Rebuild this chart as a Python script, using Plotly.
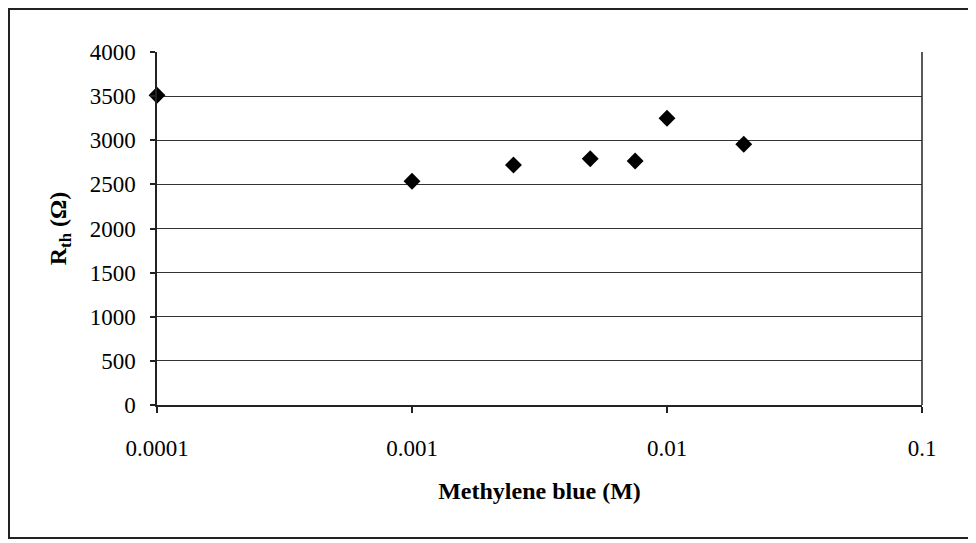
import plotly.graph_objects as go

concentration_M = [0.0001, 0.001, 0.0025, 0.005, 0.0075, 0.01, 0.02]
rth_ohm = [3510, 2535, 2720, 2790, 2765, 3250, 2955]

x_tick_vals = [0.0001, 0.001, 0.01, 0.1]
x_tick_text = ["0.0001", "0.001", "0.01", "0.1"]
y_tick_vals = [0, 500, 1000, 1500, 2000, 2500, 3000, 3500, 4000]

FONT = "Liberation Serif, Times New Roman, serif"

# page body has an 8px margin, so the figure is shifted by 8px; compensate
OFF = 8
PL, PR, PT, PB = 157 - OFF, 922 - OFF, 52 - OFF, 405 - OFF
FW, FH = 976, 543

fig = go.Figure()
fig.add_trace(go.Scatter(
    x=concentration_M, y=rth_ohm, mode="markers",
    marker=dict(symbol="diamond", size=13, color="black", line=dict(width=0)),
    showlegend=False, cliponaxis=False,
))

fig.update_layout(
    width=FW, height=FH,
    margin=dict(l=PL, r=FW - PR, t=PT, b=FH - PB),
    paper_bgcolor="white", plot_bgcolor="white",
    font=dict(family=FONT, size=23, color="black"),
    xaxis=dict(
        type="log", range=[-4, -1],
        tickvals=x_tick_vals, ticktext=x_tick_text,
        showgrid=False, zeroline=False,
        showline=True, linecolor="#222", linewidth=1.5,
        ticks="outside", ticklen=6, tickcolor="#222", tickwidth=1.5,
        ticklabelstandoff=16,
        tickfont=dict(family=FONT, size=23),
        title=dict(text="<b>Methylene blue (M)</b>", font=dict(family=FONT, size=24), standoff=22),
    ),
    yaxis=dict(
        range=[0, 4000], tickvals=y_tick_vals,
        showgrid=True, gridcolor="#333", gridwidth=1,
        zeroline=False,
        showline=True, linecolor="#222", linewidth=1.5,
        ticks="outside", ticklen=5, tickcolor="#222", tickwidth=1.5,
        ticklabelstandoff=10,
        tickfont=dict(family=FONT, size=23),
        title=dict(text="<b>R<sub>th</sub> (Ω)</b>", font=dict(family=FONT, size=24), standoff=16),
    ),
)

# right border of plot area
fig.add_shape(type="line", xref="paper", yref="paper", x0=1, x1=1, y0=0, y1=1,
              line=dict(color="#222", width=1.5))
# outer frame
W, H = PR - PL, PB - PT
fig.add_shape(type="rect", xref="paper", yref="paper",
              x0=(1 - PL) / W, x1=(963 - PL) / W,
              y0=(PB - 530) / H, y1=(PB - 1) / H,
              line=dict(color="#222", width=2), layer="below")

fig.write_html("out.html")
